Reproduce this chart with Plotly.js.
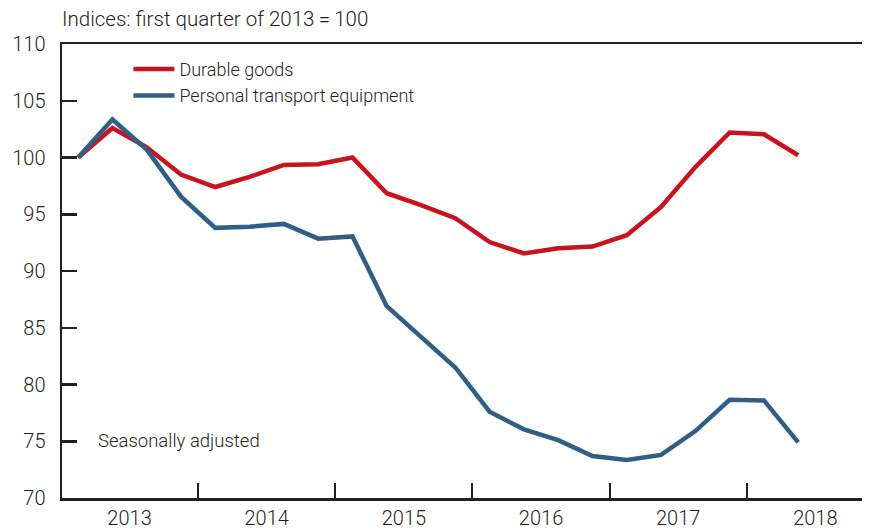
<!DOCTYPE html>
<html>
<head>
<meta charset="utf-8">
<script src="https://cdn.plot.ly/plotly-3.0.1.min.js"></script>
<style>
  html, body { margin: 0; padding: 0; background: #fff; }
  #chart { width: 876px; height: 531px; }
</style>
</head>
<body>
<div id="chart"></div>
<script>
// quarters 2013 Q1 .. 2018 Q2, as index 0..21
var quarters = [0, 1, 2, 3, 4, 5, 6, 7, 8, 9, 10, 11, 12, 13, 14, 15, 16, 17, 18, 19, 20, 21];
var durableGoods = [100, 102.6, 100.9, 98.5, 97.4, 98.3, 99.35, 99.4, 100.0, 96.85, 95.8, 94.65,
  92.55, 91.55, 92.0, 92.15, 93.15, 95.65, 99.15, 102.2, 102.05, 100.2];
var transportEquip = [100, 103.35, 100.7, 96.55, 93.8, 93.9, 94.15, 92.85, 93.05, 86.9, 84.2, 81.5,
  77.6, 76.05, 75.1, 73.7, 73.35, 73.8, 75.9, 78.65, 78.6, 74.9];
var yearLabels = ["2013", "2014", "2015", "2016", "2017", "2018"];
var yearCentres = [1.5, 5.5, 9.5, 13.5, 17.5, 21.5];
var yTicks = [70, 75, 80, 85, 90, 95, 100, 105, 110];

var ink = "#231f20";
var fontName = "Roboto, Liberation Sans, Arial, sans-serif";

var traces = [
  {
    x: quarters, y: durableGoods, type: "scatter", mode: "lines",
    name: "Durable goods",
    line: { color: "#c8141e", width: 4.5 },
  },
  {
    x: quarters, y: transportEquip, type: "scatter", mode: "lines",
    name: "Personal transport equipment",
    line: { color: "#2f5f87", width: 4.5 },
  },
];

var layout = {
  width: 876,
  height: 531,
  margin: { l: 62, r: 14, t: 44, b: 33 },
  paper_bgcolor: "#fff",
  plot_bgcolor: "#fff",
  font: { family: fontName, color: ink, size: 18, weight: 300 },
  showlegend: true,
  title: {
    text: "Indices: first quarter of 2013\u2009=\u2009100",
    font: { family: fontName, size: 20.5, color: ink, weight: 300 },
    xref: "paper", x: 0, xanchor: "left",
    yref: "container", y: 1 - 19 / 531, yanchor: "middle",
  },
  legend: {
    x: 0.083, y: 0.985, xanchor: "left", yanchor: "top",
    bgcolor: "rgba(0,0,0,0)",
    font: { family: fontName, size: 18, color: ink, weight: 300 },
    itemwidth: 41,
    tracegroupgap: 0,
  },
  xaxis: {
    range: [-0.47, 22.86],
    tickvals: yearCentres,
    ticktext: yearLabels,
    ticks: "",
    tickfont: { family: fontName, size: 20, color: ink, weight: 300 },
    ticklabelstandoff: 0,
    showgrid: false,
    zeroline: false,
    showline: true,
    mirror: true,
    linecolor: ink,
    linewidth: 2.5,
    minor: { tick0: 3.5, dtick: 4, ticks: "inside", ticklen: 15, tickwidth: 2, tickcolor: ink, showgrid: false },
    fixedrange: true,
  },
  yaxis: {
    range: [70, 110],
    tickvals: yTicks,
    ticks: "inside",
    ticklen: 15,
    tickwidth: 2.5,
    tickcolor: ink,
    tickfont: { family: fontName, size: 20, color: ink, weight: 300 },
    ticklabelstandoff: 10,
    showgrid: false,
    zeroline: false,
    showline: true,
    linecolor: ink,
    linewidth: 2.5,
    fixedrange: true,
  },
  annotations: [
    {
      text: "Seasonally adjusted",
      xref: "paper", yref: "y",
      x: 0.043, y: 75, xanchor: "left", yanchor: "middle",
      showarrow: false,
      font: { family: fontName, size: 18.5, color: ink, weight: 300 },
    },
  ],
};

Plotly.newPlot("chart", traces, layout, { displayModeBar: false, staticPlot: true });
</script>
</body>
</html>
